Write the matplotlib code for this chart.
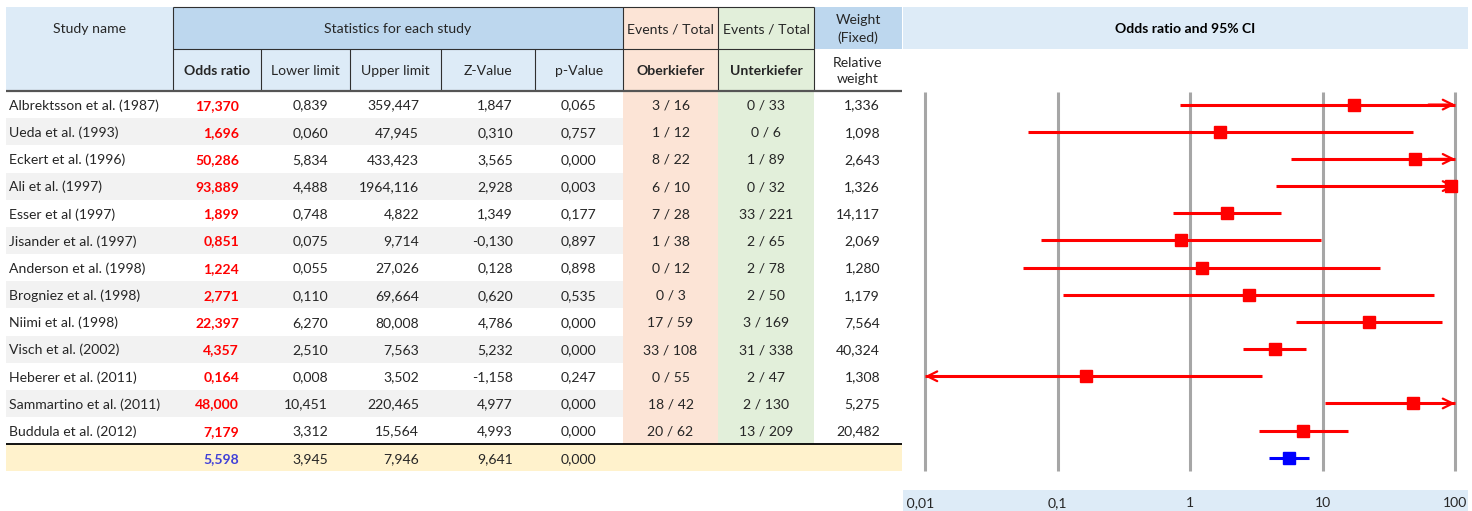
import numpy as np
import matplotlib
matplotlib.use("Agg")
import matplotlib.pyplot as plt
from matplotlib.patches import Rectangle

plt.rcParams['font.family'] = ['Lato', 'DejaVu Sans']

# ---------------- data ----------------
studies = ["Albrektsson et al. (1987)", "Ueda et al. (1993)", "Eckert et al. (1996)",
           "Ali et al. (1997)", "Esser et al (1997)", "Jisander et al. (1997)",
           "Anderson et al. (1998)", "Brogniez et al. (1998)", "Niimi et al. (1998)",
           "Visch et al. (2002)", "Heberer et al. (2011)", "Sammartino et al. (2011)",
           "Buddula et al. (2012)"]
odds_ratio = [17.370, 1.696, 50.286, 93.889, 1.899, 0.851, 1.224, 2.771, 22.397,
              4.357, 0.164, 48.000, 7.179]
lower_limit = [0.839, 0.060, 5.834, 4.488, 0.748, 0.075, 0.055, 0.110, 6.270,
               2.510, 0.008, 10.451, 3.312]
upper_limit = [359.447, 47.945, 433.423, 1964.116, 4.822, 9.714, 27.026, 69.664,
               80.008, 7.563, 3.502, 220.465, 15.564]
z_value = [1.847, 0.310, 3.565, 2.928, 1.349, -0.130, 0.128, 0.620, 4.786, 5.232,
           -1.158, 4.977, 4.993]
p_value = [0.065, 0.757, 0.000, 0.003, 0.177, 0.897, 0.898, 0.535, 0.000, 0.000,
           0.247, 0.000, 0.000]
ober_events = [3, 1, 8, 6, 7, 1, 0, 0, 17, 33, 0, 18, 20]
ober_total = [16, 12, 22, 10, 28, 38, 12, 3, 59, 108, 55, 42, 62]
unter_events = [0, 0, 1, 0, 33, 2, 2, 2, 3, 31, 2, 2, 13]
unter_total = [33, 6, 89, 32, 221, 65, 78, 50, 169, 338, 47, 130, 209]
rel_weight = [1.336, 1.098, 2.643, 1.326, 14.117, 2.069, 1.280, 1.179, 7.564,
              40.324, 1.308, 5.275, 20.482]
summary_stats = [5.598, 3.945, 7.946, 9.641, 0.000]  # OR, lower, upper, Z, p
axis_ticks = [0.01, 0.1, 1, 10, 100]
axis_tick_labels = ["0,01", "0,1", "1", "10", "100"]

# ---------------- styling / layout ----------------
W, H = 1472, 511
fig = plt.figure(figsize=(W / 100, H / 100), dpi=100)
tab = fig.add_axes([0, 0, 1, 1])
tab.set_xlim(0, W)
tab.set_ylim(H, 0)
tab.axis('off')

LBLUE = '#DDEBF7'
DBLUE = '#BDD7EE'
SALMON = '#FCE4D6'
GREEN = '#E2EFDA'
GRAY = '#F2F2F2'
YELLOW = '#FFF2CC'
TXT = '#262626'
RED = '#FF0000'
BLUE = '#0000FF'
FS = 10.1
DY = 1.0  # small baseline nudge

def fmt(v):
    return f"{v:.3f}".replace('.', ',')

def rect(x0, y0, x1, y1, color):
    tab.add_patch(Rectangle((x0, y0), x1 - x0, y1 - y0, facecolor=color,
                            edgecolor='none', zorder=0))

def hline(y, x0, x1, lw=0.8, color='#303030'):
    tab.plot([x0, x1], [y, y], color=color, lw=lw, zorder=3, solid_capstyle='butt')

def vline(x, y0, y1, lw=0.8, color='#303030'):
    tab.plot([x, x], [y0, y1], color=color, lw=lw, zorder=3, solid_capstyle='butt')

def txt(x, y, s, **kw):
    kw.setdefault('fontsize', FS)
    kw.setdefault('color', TXT)
    kw.setdefault('va', 'center')
    tab.text(x, y + DY, s, **kw)

# column edges
cx = [6, 173, 261, 350, 441, 535, 623, 718, 814, 902]
top, mid, hb = 7, 49, 91
row_h = 27.17
n = len(studies)
row_top = [hb + i * row_h for i in range(n + 1)]
sum_top = row_top[n]
sum_bot = sum_top + row_h

# header backgrounds
rect(cx[0], top, cx[1], hb, LBLUE)
rect(cx[1], top, cx[6], mid, DBLUE)
rect(cx[1], mid, cx[6], hb, LBLUE)
rect(cx[6], top, cx[7], hb, SALMON)
rect(cx[7], top, cx[8], hb, GREEN)
rect(cx[8], top, cx[9], mid, DBLUE)
rect(903, top, 1468, mid, LBLUE)

# body backgrounds
for i in range(n):
    if i % 2 == 1:
        rect(cx[0], row_top[i], cx[6], row_top[i + 1], GRAY)
rect(cx[6], hb, cx[7], sum_top, SALMON)
rect(cx[7], hb, cx[8], sum_top, GREEN)
rect(cx[0], sum_top, cx[9], sum_bot, YELLOW)

# header borders
hline(top, cx[1], cx[8])
hline(mid, cx[1], cx[8])
vline(cx[1], top, hb)
for x in cx[2:6]:
    vline(x, mid, hb)
for x in cx[6:9]:
    vline(x, top, hb)
hline(hb, cx[0], cx[9], lw=1.6, color='#555555')
hline(sum_top, cx[0], cx[9], lw=1.3, color='#000000')

# header texts
yc1, yc2 = (top + mid) / 2, (mid + hb) / 2
txt((cx[0] + cx[1]) / 2, yc1, "Study name", ha='center')
txt((cx[1] + cx[6]) / 2, yc1, "Statistics for each study", ha='center')
sub = ["Odds ratio", "Lower limit", "Upper limit", "Z-Value", "p-Value"]
for k, s in enumerate(sub):
    txt((cx[1 + k] + cx[2 + k]) / 2, yc2, s, ha='center',
        fontweight='bold' if k == 0 else 'normal')
txt((cx[6] + cx[7]) / 2, yc1, "Events / Total", ha='center')
txt((cx[7] + cx[8]) / 2, yc1, "Events / Total", ha='center')
txt((cx[6] + cx[7]) / 2, yc2, "Oberkiefer", ha='center', fontweight='bold')
txt((cx[7] + cx[8]) / 2, yc2, "Unterkiefer", ha='center', fontweight='bold')
txt((cx[8] + cx[9]) / 2, yc1, "Weight\n(Fixed)", ha='center', linespacing=1.45)
txt((cx[8] + cx[9]) / 2, yc2, "Relative\nweight", ha='center', linespacing=1.45)
txt((903 + 1468) / 2, yc1, "Odds ratio and 95% CI", ha='center', color='black', fontweight='bold')

# right-alignment anchors
ax_or, ax_lo, ax_up, ax_z, ax_p, ax_w = 239, 328, 419, 513, 596, 880

for i in range(n):
    y = row_top[i] + row_h / 2
    txt(9, y, studies[i], ha='left')
    txt(ax_or, y, fmt(odds_ratio[i]), ha='right', color=RED, fontweight='bold')
    txt(ax_lo, y, fmt(lower_limit[i]), ha='right')
    txt(ax_up, y, fmt(upper_limit[i]), ha='right')
    txt(ax_z, y, fmt(z_value[i]), ha='right')
    txt(ax_p, y, fmt(p_value[i]), ha='right')
    txt((cx[6] + cx[7]) / 2, y, f"{ober_events[i]} / {ober_total[i]}", ha='center')
    txt((cx[7] + cx[8]) / 2, y, f"{unter_events[i]} / {unter_total[i]}", ha='center')
    txt(ax_w, y, fmt(rel_weight[i]), ha='right')

ys = sum_top + row_h / 2
txt(ax_or, ys, fmt(summary_stats[0]), ha='right', color='#4040D8', fontweight='bold')
for v, xa in zip(summary_stats[1:], [ax_lo, ax_up, ax_z, ax_p]):
    txt(xa, ys, fmt(v), ha='right')

# axis label bar
rect(903, 490, 1468, H, LBLUE)

# ---------------- forest plot ----------------
x0px, x1px = 903, 1468
dec = 132.5
lo_log = -2 - (925 - x0px) / dec
hi_log = 2 + (x1px - 1455) / dec
fx = fig.add_axes([x0px / W, 0, (x1px - x0px) / W, 1])
fx.set_xscale('log')
fx.set_xlim(10 ** lo_log, 10 ** hi_log)
fx.set_ylim(H, 0)
fx.patch.set_alpha(0)
fx.axis('off')

xmin_v, xmax_v = axis_ticks[0], axis_ticks[-1]
for t in axis_ticks:
    fx.plot([t, t], [92, 471], color='#A6A6A6', lw=2.2, zorder=1, solid_capstyle='butt')

for t, lab in zip(axis_ticks, axis_tick_labels):
    if t == axis_ticks[0]:
        fx.text(10 ** lo_log, 503, " " + lab, ha='left', va='center', fontsize=FS, color=TXT)
    else:
        fx.text(t, 503, lab, ha='center', va='center', fontsize=FS, color=TXT)

def ci(y, o, l, u, color, ms):
    lc = max(l, xmin_v)
    uc = min(u, xmax_v)
    fx.plot([lc, uc], [y, y], color=color, lw=2.2, zorder=3, solid_capstyle='butt')
    if u > xmax_v:
        fx.annotate('', xy=(xmax_v, y), xytext=(10 ** (np.log10(xmax_v) - 0.2), y),
                    arrowprops=dict(arrowstyle='->,head_length=0.7,head_width=0.35',
                                    color=color, lw=1.6, shrinkA=0, shrinkB=0), zorder=3)
    if l < xmin_v:
        fx.annotate('', xy=(xmin_v, y), xytext=(10 ** (np.log10(xmin_v) + 0.2), y),
                    arrowprops=dict(arrowstyle='->,head_length=0.7,head_width=0.35',
                                    color=color, lw=1.6, shrinkA=0, shrinkB=0), zorder=3)
    fx.plot([o], [y], marker='s', ms=ms, color=color, mec=color, zorder=4, clip_on=False)

for i in range(n):
    y = row_top[i] + row_h / 2
    ci(y, odds_ratio[i], lower_limit[i], upper_limit[i], RED, 8.5)
ci(ys, summary_stats[0], summary_stats[1], summary_stats[2], BLUE, 8.5)

fig.savefig("out.png", dpi=100)
